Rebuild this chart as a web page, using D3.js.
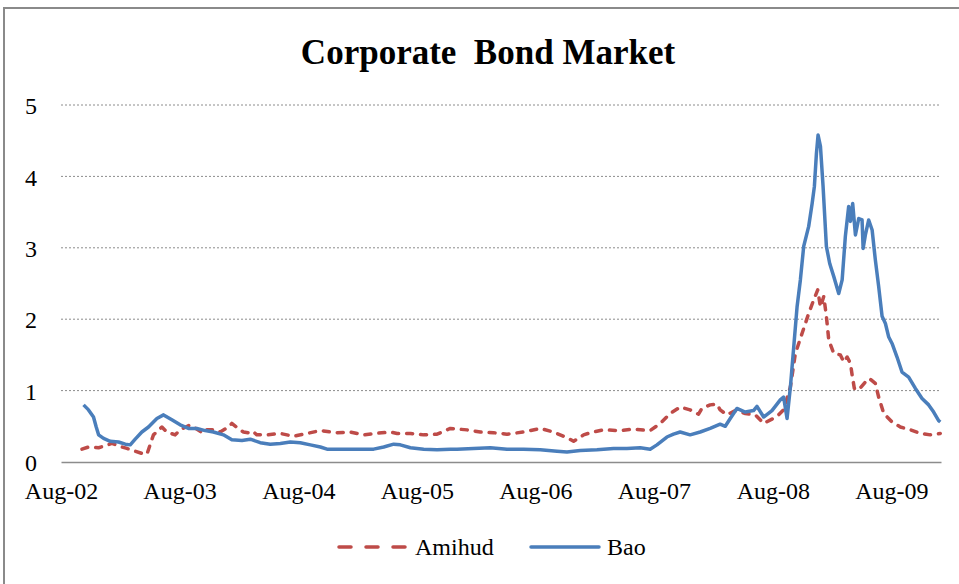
<!DOCTYPE html>
<html>
<head>
<meta charset="utf-8">
<script src="https://cdn.jsdelivr.net/npm/d3@7"></script>
<style>
  body { margin: 0; background: #fff; }
  svg text { font-family: "Liberation Serif", "Times New Roman", serif; fill: #000; }
</style>
</head>
<body>
<div id="chart"></div>
<script>
// series values: [decimal year, value]
var bao = [
  [2002.771, 0.80], [2002.813, 0.73], [2002.855, 0.63], [2002.878, 0.49], [2002.898, 0.38],
  [2002.940, 0.33], [2002.996, 0.29], [2003.066, 0.28], [2003.123, 0.25], [2003.165, 0.24],
  [2003.207, 0.32], [2003.263, 0.42], [2003.319, 0.49], [2003.390, 0.61], [2003.446, 0.66],
  [2003.516, 0.59], [2003.586, 0.52], [2003.656, 0.47], [2003.727, 0.47], [2003.797, 0.44],
  [2003.867, 0.42], [2003.951, 0.38], [2004.022, 0.31], [2004.107, 0.30], [2004.177, 0.32],
  [2004.261, 0.27], [2004.345, 0.25], [2004.430, 0.26], [2004.514, 0.28], [2004.598, 0.27],
  [2004.683, 0.24], [2004.767, 0.21], [2004.823, 0.18], [2004.935, 0.18], [2005.076, 0.18],
  [2005.216, 0.18], [2005.301, 0.21], [2005.385, 0.25], [2005.441, 0.24], [2005.526, 0.20],
  [2005.638, 0.18], [2005.751, 0.17], [2005.863, 0.18], [2005.919, 0.18], [2006.059, 0.19],
  [2006.200, 0.20], [2006.341, 0.18], [2006.481, 0.18], [2006.622, 0.17], [2006.763, 0.15],
  [2006.847, 0.14], [2006.959, 0.16], [2007.100, 0.17], [2007.240, 0.19], [2007.353, 0.19],
  [2007.465, 0.20], [2007.549, 0.18], [2007.606, 0.24], [2007.690, 0.35], [2007.746, 0.39],
  [2007.802, 0.42], [2007.886, 0.38], [2007.971, 0.42], [2008.055, 0.47], [2008.139, 0.53],
  [2008.182, 0.50], [2008.224, 0.61], [2008.280, 0.75], [2008.350, 0.70], [2008.420, 0.72],
  [2008.449, 0.78], [2008.505, 0.63], [2008.575, 0.72], [2008.645, 0.87], [2008.673, 0.91],
  [2008.702, 0.61], [2008.730, 1.05], [2008.758, 1.61], [2008.786, 2.17], [2008.814, 2.55],
  [2008.842, 3.02], [2008.884, 3.30], [2008.913, 3.62], [2008.932, 3.86], [2008.949, 4.32],
  [2008.963, 4.58], [2008.983, 4.42], [2009.005, 3.86], [2009.033, 3.02], [2009.061, 2.78],
  [2009.095, 2.60], [2009.137, 2.36], [2009.166, 2.55], [2009.193, 3.16], [2009.221, 3.58],
  [2009.236, 3.37], [2009.255, 3.62], [2009.278, 3.18], [2009.306, 3.41], [2009.334, 3.39],
  [2009.343, 2.99], [2009.362, 3.18], [2009.390, 3.39], [2009.419, 3.25], [2009.446, 2.83],
  [2009.474, 2.46], [2009.503, 2.04], [2009.531, 1.94], [2009.559, 1.75], [2009.587, 1.66],
  [2009.629, 1.47], [2009.671, 1.26], [2009.727, 1.19], [2009.784, 1.03], [2009.840, 0.89],
  [2009.896, 0.80], [2009.938, 0.70], [2009.980, 0.58], [2009.994, 0.56]
];

var amihud = [
  [2002.758, 0.18], [2002.813, 0.21], [2002.898, 0.20], [2002.940, 0.22], [2003.010, 0.26],
  [2003.095, 0.21], [2003.137, 0.19], [2003.263, 0.12], [2003.306, 0.11], [2003.361, 0.38],
  [2003.432, 0.49], [2003.474, 0.42], [2003.544, 0.38], [2003.586, 0.45], [2003.671, 0.52],
  [2003.698, 0.49], [2003.783, 0.40], [2003.811, 0.45], [2003.896, 0.45], [2003.924, 0.42],
  [2003.994, 0.49], [2004.022, 0.54], [2004.092, 0.45], [2004.120, 0.42], [2004.191, 0.40],
  [2004.205, 0.42], [2004.233, 0.38], [2004.317, 0.38], [2004.430, 0.40], [2004.542, 0.36],
  [2004.655, 0.40], [2004.767, 0.44], [2004.908, 0.41], [2005.020, 0.42], [2005.132, 0.38],
  [2005.231, 0.40], [2005.357, 0.42], [2005.414, 0.40], [2005.526, 0.40], [2005.638, 0.38],
  [2005.751, 0.39], [2005.863, 0.47], [2006.004, 0.45], [2006.116, 0.42], [2006.228, 0.41],
  [2006.341, 0.39], [2006.481, 0.42], [2006.622, 0.47], [2006.734, 0.42], [2006.860, 0.33],
  [2006.903, 0.29], [2006.987, 0.38], [2007.043, 0.41], [2007.156, 0.45], [2007.296, 0.44],
  [2007.409, 0.46], [2007.549, 0.44], [2007.634, 0.54], [2007.718, 0.68], [2007.802, 0.77],
  [2007.886, 0.73], [2007.957, 0.67], [2007.985, 0.75], [2008.055, 0.80], [2008.112, 0.81],
  [2008.139, 0.73], [2008.196, 0.66], [2008.266, 0.72], [2008.350, 0.68], [2008.435, 0.66],
  [2008.505, 0.54], [2008.575, 0.60], [2008.631, 0.66], [2008.673, 0.73], [2008.730, 1.05],
  [2008.772, 1.52], [2008.828, 1.80], [2008.884, 2.08], [2008.926, 2.27], [2008.960, 2.41],
  [2008.983, 2.17], [2009.011, 2.32], [2009.033, 2.04], [2009.053, 1.71], [2009.095, 1.52],
  [2009.151, 1.50], [2009.180, 1.40], [2009.208, 1.47], [2009.236, 1.38], [2009.250, 1.22],
  [2009.269, 1.03], [2009.306, 1.01], [2009.362, 1.12], [2009.396, 1.17], [2009.446, 1.10],
  [2009.474, 0.91], [2009.517, 0.68], [2009.587, 0.56], [2009.657, 0.49], [2009.742, 0.45],
  [2009.826, 0.40], [2009.910, 0.38], [2009.994, 0.40]
];

var yTicks = [0, 1, 2, 3, 4, 5];
var xTickYears = [2002, 2003, 2004, 2005, 2006, 2007, 2008, 2009];
var seriesNames = ["Amihud", "Bao"];

// decimal year -> Date
function toDate(y) {
    var yr = Math.floor(y);
    var start = new Date(yr, 0, 1), end = new Date(yr + 1, 0, 1);
    return new Date(+start + (y - yr) * (end - start));
}

var serif = "'Liberation Serif', 'Times New Roman', serif";
var width = 959, height = 584;
var margin = {top: 105, right: 18, bottom: 122, left: 61};
var plotW = width - margin.left - margin.right,
    plotH = height - margin.top - margin.bottom;

var svg = d3.select("#chart").append("svg")
    .attr("width", width)
    .attr("height", height);

// outer frame
svg.append("rect")
    .attr("x", 4).attr("y", 8)
    .attr("width", 970).attr("height", 600)
    .attr("fill", "none")
    .attr("stroke", "#8a8a8a")
    .attr("stroke-width", 2);

svg.append("text")
    .attr("x", 488).attr("y", 64)
    .attr("text-anchor", "middle")
    .style("font-family", serif)
    .style("font-size", "35px")
    .style("font-weight", "bold")
    .style("white-space", "pre")
    .text("Corporate  Bond Market");

var xScale = d3.scaleTime()
    .domain([new Date(2002, 7, 1), new Date(2010, 0, 1)])
    .range([0, plotW]);

var yScale = d3.scaleLinear()
    .domain([0, 5])
    .range([plotH, 0]);

var g = svg.append("g")
    .attr("transform", "translate(" + margin.left + "," + margin.top + ")");

// gridlines
g.append("g")
    .selectAll("line")
    .data(yTicks.filter(function(d) { return d > 0; }))
    .enter().append("line")
    .attr("x1", 0).attr("x2", plotW)
    .attr("y1", function(d) { return yScale(d); })
    .attr("y2", function(d) { return yScale(d); })
    .attr("stroke", "#8c8c8c")
    .attr("stroke-width", 1)
    .attr("stroke-dasharray", "2,2");

// y axis labels
var yAxis = d3.axisLeft(yScale).tickValues(yTicks).tickFormat(d3.format("d"))
    .tickSize(0).tickPadding(0);
g.append("g")
    .attr("transform", "translate(-30,0)")
    .call(yAxis)
    .call(function(s) { s.select(".domain").remove(); })
    .selectAll("text")
    .style("font-family", serif)
    .style("font-size", "24px")
    .attr("fill", "#000")
    .attr("text-anchor", "middle")
    .attr("dy", "0.36em");

// x axis
var xAxis = d3.axisBottom(xScale)
    .tickValues(xTickYears.map(function(y) { return new Date(y, 7, 1); }))
    .tickFormat(d3.timeFormat("%b-%y"))
    .tickSize(0)
    .tickPadding(0);
var xg = g.append("g")
    .attr("transform", "translate(0," + plotH + ")")
    .call(xAxis);
xg.select(".domain").attr("stroke", "#8c8c8c").attr("stroke-width", 1.3);
xg.selectAll("text")
    .style("font-family", serif)
    .style("font-size", "24px")
    .attr("fill", "#000")
    .attr("dy", "1.55em");

var line = d3.line()
    .x(function(d) { return xScale(toDate(d[0])); })
    .y(function(d) { return yScale(d[1]); });

var styles = {
    Amihud: {color: "#BE4B48", dash: "6,8", legendDash: "12,15"},
    Bao: {color: "#4A7EBB", dash: null, legendDash: null}
};

g.append("path")
    .datum(amihud)
    .attr("fill", "none")
    .attr("stroke", styles.Amihud.color)
    .attr("stroke-width", 3.5)
    .attr("stroke-linecap", "round")
    .attr("stroke-linejoin", "round")
    .attr("stroke-dasharray", styles.Amihud.dash)
    .attr("d", line);

g.append("path")
    .datum(bao)
    .attr("fill", "none")
    .attr("stroke", styles.Bao.color)
    .attr("stroke-width", 3.5)
    .attr("stroke-linejoin", "round")
    .attr("d", line);

// legend
var legendX = [339, 531];
var legend = svg.append("g").attr("transform", "translate(0,547)");
var items = legend.selectAll("g")
    .data(seriesNames)
    .enter().append("g")
    .attr("transform", function(d, i) { return "translate(" + legendX[i] + ",0)"; });
items.append("line")
    .attr("x1", 0).attr("x2", 68)
    .attr("stroke", function(d) { return styles[d].color; })
    .attr("stroke-width", 3.5)
    .attr("stroke-linecap", "round")
    .attr("stroke-dasharray", function(d) { return styles[d].legendDash; });
items.append("text")
    .attr("x", 76)
    .attr("dy", "0.35em")
    .style("font-family", serif)
    .style("font-size", "24px")
    .text(function(d) { return d; });
</script>
</body>
</html>
